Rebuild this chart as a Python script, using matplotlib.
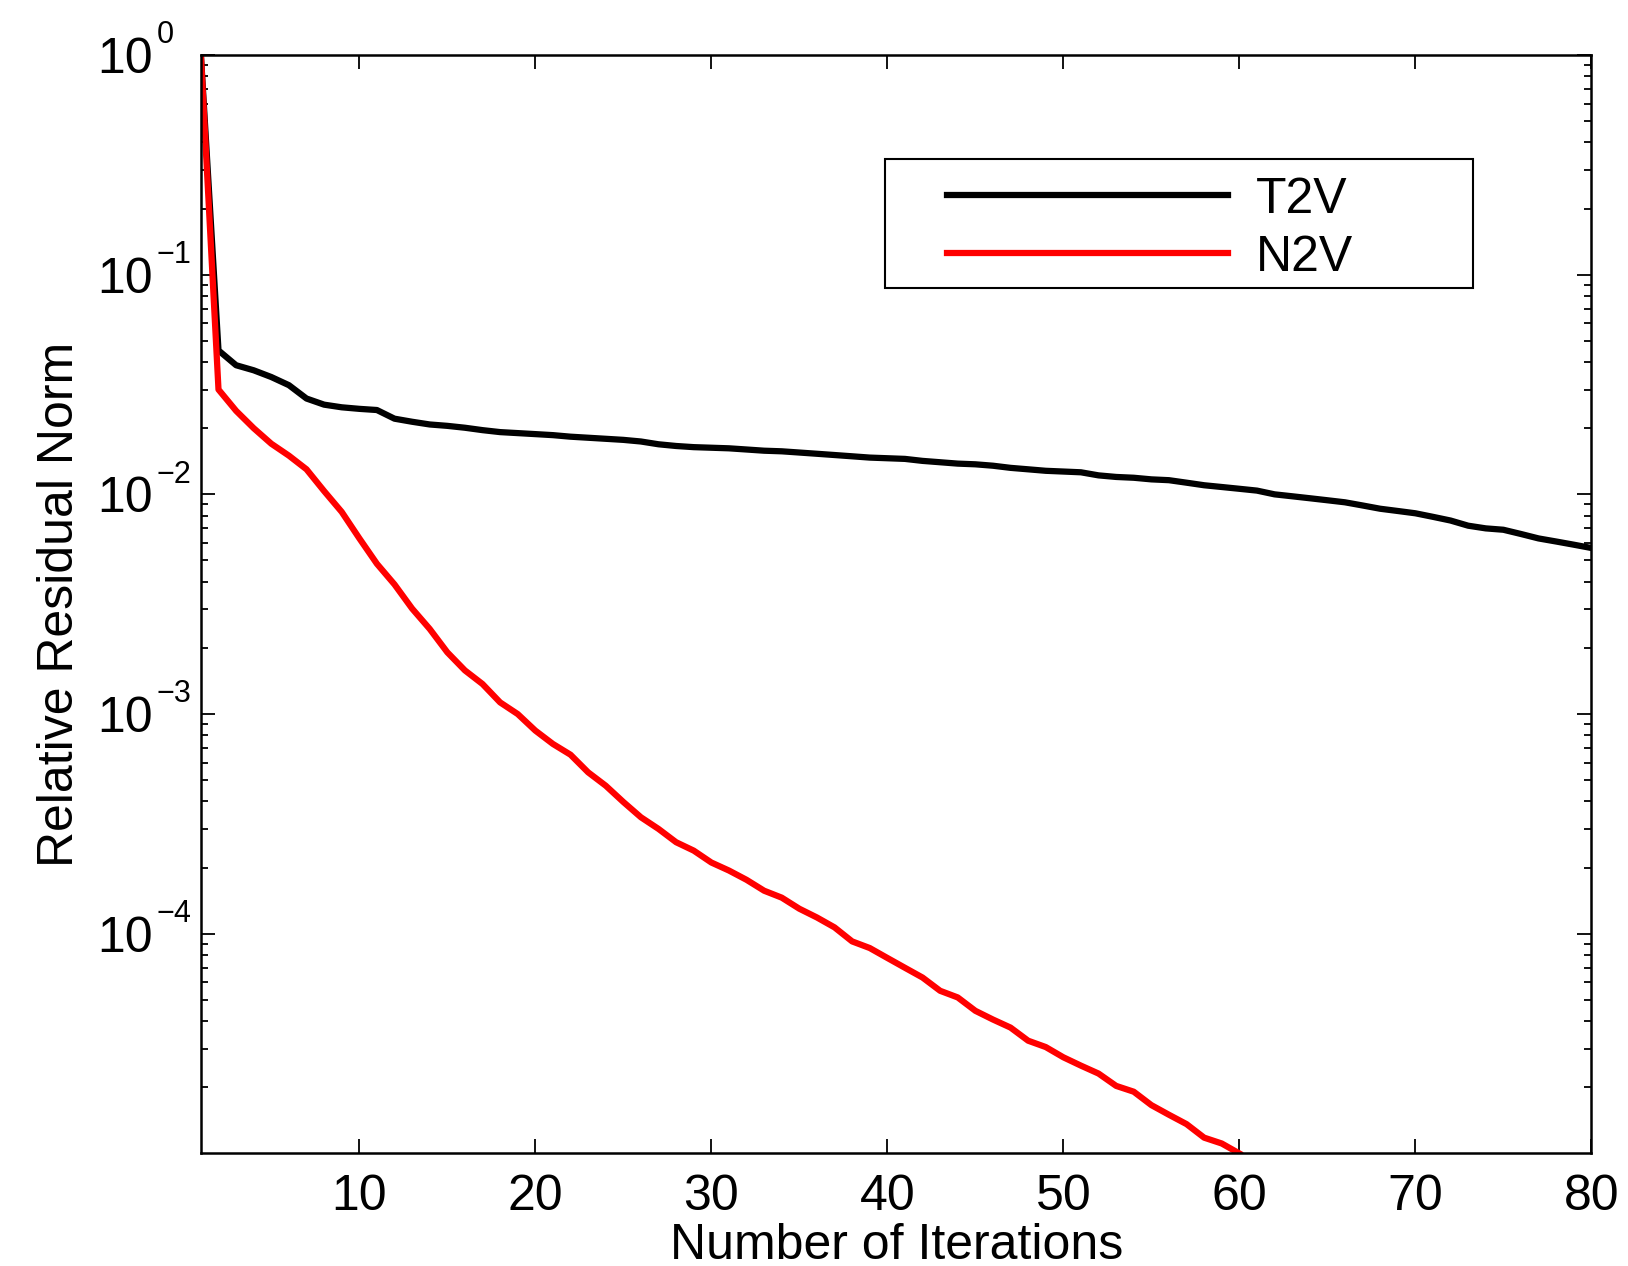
"""
Convergence history: relative residual norm vs. iteration count (T2V vs N2V).
"""

import numpy as np
import matplotlib
matplotlib.use("Agg")
import matplotlib.pyplot as plt
from matplotlib.patches import Rectangle
from matplotlib.ticker import FixedLocator, LogLocator, NullFormatter, FuncFormatter

plt.rcParams["font.family"] = ["Liberation Sans", "DejaVu Sans"]

# T2V residual history, iterations 1..80
t2v = [1.0, 0.0452, 0.0387, 0.0367, 0.0342, 0.0314, 0.0273, 0.0256, 0.0249, 0.0245,
       0.0242, 0.0221, 0.0214, 0.0208, 0.0205, 0.0201, 0.0196, 0.0192, 0.0190, 0.0188,
       0.0186, 0.0183, 0.0181, 0.0179, 0.0177, 0.0174, 0.0169, 0.0166, 0.0164, 0.0163,
       0.0162, 0.0160, 0.0158, 0.0157, 0.0155, 0.0153, 0.0151, 0.0149, 0.0147, 0.0146,
       0.0145, 0.0142, 0.0140, 0.0138, 0.0137, 0.0135, 0.0132, 0.0130, 0.0128, 0.0127,
       0.0126, 0.0122, 0.0120, 0.0119, 0.0117, 0.0116, 0.0113, 0.0110, 0.0108, 0.0106,
       0.0104, 0.0100, 0.0098, 0.0096, 0.0094, 0.0092, 0.0089, 0.0086, 0.0084, 0.0082,
       0.0079, 0.0076, 0.0072, 0.0070, 0.0069, 0.0066, 0.0063, 0.0061, 0.0059, 0.0057]

# N2V residual history, iterations 1..60
n2v = [1.0, 0.0300, 0.0240, 0.0200, 0.0170, 0.0150, 0.0130, 0.01035, 0.00832, 0.00631,
       0.00483, 0.00389, 0.00302, 0.00244, 0.00191, 0.00158, 0.00137, 0.00113, 0.00100, 0.000841,
       0.000731, 0.000653, 0.000543, 0.000472, 0.000398, 0.000339, 0.000300, 0.000261, 0.000239, 0.000211,
       0.000194, 0.000176, 0.000157, 0.000146, 0.000130, 1.186e-4, 1.069e-4, 9.23e-5, 8.61e-5, 7.76e-5,
       7.0e-5, 6.32e-5, 5.50e-5, 5.13e-5, 4.46e-5, 4.07e-5, 3.74e-5, 3.26e-5, 3.05e-5, 2.74e-5,
       2.51e-5, 2.31e-5, 2.03e-5, 1.91e-5, 1.66e-5, 1.50e-5, 1.36e-5, 1.18e-5, 1.11e-5, 1.0e-5]

labels = ["T2V", "N2V"]
xticks = [10, 20, 30, 40, 50, 60, 70, 80]
yticks = [1e-4, 1e-3, 1e-2, 1e-1, 1e0]

FS = 36
SUP = 22

fig = plt.figure(figsize=(16.28, 12.66), dpi=100)
ax = fig.add_axes([0.1234, 0.0889, 0.9775 - 0.1234, 0.9566 - 0.0889])

it_t2v = np.arange(1, len(t2v) + 1)
it_n2v = np.arange(1, len(n2v) + 1)
ax.semilogy(it_t2v, t2v, color="black", lw=4.5, label=labels[0])
ax.semilogy(it_n2v, n2v, color="#ff0000", lw=4.5, label=labels[1])

ax.set_xlim(1, 80)
ax.set_ylim(1.0e-5, 1.0)

ax.xaxis.set_major_locator(FixedLocator(xticks))
ax.yaxis.set_major_locator(FixedLocator(yticks))
ax.yaxis.set_minor_locator(LogLocator(base=10, subs=np.arange(2, 10), numticks=20))
ax.yaxis.set_minor_formatter(NullFormatter())
# base "10" as tick label, exponent drawn as a separate raised text (MATLAB look)
ax.yaxis.set_major_formatter(FuncFormatter(lambda v, p: "10"))
for v in yticks:
    e = int(round(np.log10(v)))
    ax.annotate(str(e).replace("-", "\u2212"), xy=(0, v),
                xycoords=ax.get_yaxis_transform(),
                xytext=(-32, 8.5), textcoords="offset points",
                ha="left", va="baseline", fontsize=SUP)

ax.tick_params(which="both", direction="in", top=True, right=True, width=1.3)
ax.tick_params(which="major", length=10, labelsize=FS)
ax.tick_params(which="minor", length=5)
ax.tick_params(axis="x", pad=15)
ax.tick_params(axis="y", pad=34.5)
for s in ax.spines.values():
    s.set_linewidth(1.8)

ax.set_xlabel("Number of Iterations", fontsize=FS, labelpad=2)
ax.set_ylabel("Relative Residual Norm", fontsize=FS, labelpad=10)

leg = ax.legend(loc="center left", bbox_to_anchor=(0.5814, 0.8194),
                bbox_transform=fig.transFigure, frameon=False, fontsize=FS,
                handlelength=5.63, handletextpad=0.55, labelspacing=0.245,
                borderpad=0, borderaxespad=0)
fig.patches.append(Rectangle((0.5436, 0.7725), 0.3611, 0.1019,
                             transform=fig.transFigure, fill=False,
                             edgecolor="black", lw=1.5))

fig.savefig("out.png", dpi=100)
plt.close(fig)
